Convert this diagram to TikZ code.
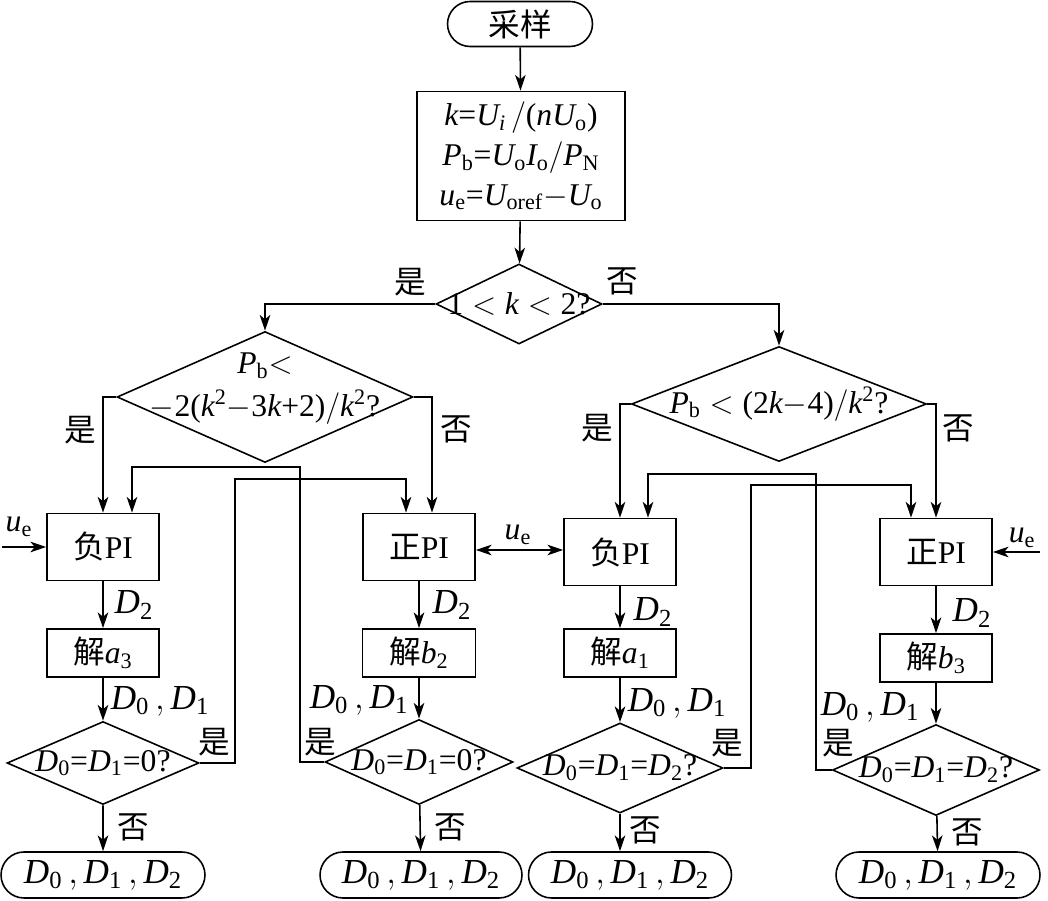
\RequirePackage{fix-cm}
\documentclass[tikz,border=0pt]{standalone}
\usepackage{fontspec}
\setmainfont{Liberation Serif}
\newfontfamily\cjk{Noto Sans CJK SC}
\usetikzlibrary{shapes.geometric,shapes.misc,arrows.meta,calc}
% Times-like letters and digits in math
\DeclareSymbolFont{tuup}{TU}{\rmdefault}{m}{n}
\DeclareSymbolFont{tuletters}{TU}{\rmdefault}{m}{it}
\makeatletter
\AtBeginDocument{%
  \count@=`a \loop \Umathcode\count@=7 \symtuletters \count@ \advance\count@ 1 \ifnum\count@<`\{ \repeat
  \count@=`A \loop \Umathcode\count@=7 \symtuletters \count@ \advance\count@ 1 \ifnum\count@<`\[ \repeat
  \count@=`0 \loop \Umathcode\count@=7 \symtuup \count@ \advance\count@ 1 \ifnum\count@<`\: \repeat
  \Umathcode`(=4 \symtuup `(
  \Umathcode`)=5 \symtuup `)
  \Umathcode`?=5 \symtuup `?
  \Umathcode`+=2 \symtuup `+
  \Umathcode`==3 \symtuup `=}
\makeatother

\begin{document}
\begin{tikzpicture}[x=0.02cm, y=-0.02cm, line width=0.9pt,
        >={Stealth[length=9pt,width=6pt,inset=2.5pt]},
        every node/.style={font=\fontsize{18}{21}\selectfont},
        term/.style={draw, rounded rectangle, minimum width=4.08cm, minimum height=0.92cm, inner sep=0pt},
        proc/.style={draw, rectangle, minimum width=2.24cm, minimum height=1.34cm, inner sep=0pt},
        solve/.style={draw, rectangle, minimum width=2.24cm, minimum height=0.96cm, inner sep=0pt},
        dec/.style={draw, diamond, inner sep=0pt},
        lab/.style={inner sep=0pt},
        big/.style={font=\fontsize{20}{23}\selectfont}]
        \useasboundingbox (0,0) rectangle (1048,901);

        % Draw top part
        \node[term, minimum width=2.9cm, minimum height=0.9cm] (samp) at (520,24) {\cjk 采样};
        \node[draw, align=center, minimum width=4.16cm, minimum height=2.58cm, inner sep=0pt,
              font=\fontsize{18}{22.7}\selectfont] (calc) at (521,156)
              {$k{=}U_i\,/(nU_\mathrm{o})$\\ $P_\mathrm{b}{=}U_\mathrm{o}I_\mathrm{o}/P_\mathrm{N}$\\ $u_\mathrm{e}{=}U_\mathrm{oref}{-}U_\mathrm{o}$};
        \node[dec, minimum width=3.32cm, minimum height=1.6cm] (d0) at (519,304) {\makebox[0pt]{$1<k<2?$}};

        % Draw second level decisions
        \node[dec, minimum width=5.92cm, minimum height=2.62cm] (dL) at (265,397)
              {\makebox[0pt]{\raisebox{0.03cm}[0pt][0pt]{$\begin{array}{c} P_\mathrm{b}{<}\\[3pt] -2(k^2{-}3k{+}2)/k^2? \end{array}$}}};
        \node[dec, minimum width=5.9cm, minimum height=2.3cm] (dR) at (779,404)
              {\makebox[0pt]{$P_\mathrm{b}<(2k{-}4)/k^2?$}};

        % Draw PI boxes
        \node[proc] (nL) at (103,547) {{\cjk 负}PI};
        \node[proc] (pL) at (419,547) {{\cjk 正}PI};
        \node[proc] (nR) at (620,552) {{\cjk 负}PI};
        \node[proc] (pR) at (936,552) {{\cjk 正}PI};

        % Draw solve boxes
        \node[solve] (sL) at (103,653) {{\cjk 解}$a_3$};
        \node[solve, minimum width=2.26cm] (sLM) at (419,653) {{\cjk 解}$b_2$};
        \node[solve] (sRM) at (620,653) {{\cjk 解}$a_1$};
        \node[solve] (sR) at (936,658) {{\cjk 解}$b_3$};

        % Draw small decisions
        \node[dec, minimum width=3.84cm, minimum height=1.66cm] (qL) at (103,763) {\makebox[0pt]{$D_0{=}D_1{=}0?$}};
        \node[dec, minimum width=3.76cm, minimum height=1.7cm] (qLM) at (419,762) {\makebox[0pt]{$D_0{=}D_1{=}0?$}};
        \node[dec, minimum width=4.12cm, minimum height=1.8cm] (qRM) at (620,768) {\makebox[0pt]{$D_0{=}D_1{=}D_2?$}};
        \node[dec, minimum width=4.14cm, minimum height=1.82cm] (qR) at (936,770) {\makebox[0pt]{$D_0{=}D_1{=}D_2?$}};

        % Draw outputs
        \node[term, big] (tL) at (103,875) {$D_0\,, D_1\,, D_2$};
        \node[term, big, minimum width=4.04cm] (tLM) at (421,875) {$D_0\,, D_1\,, D_2$};
        \node[term, big, minimum width=4.06cm] (tRM) at (630,875) {$D_0\,, D_1\,, D_2$};
        \node[term, big] (tR) at (938,875) {$D_0\,, D_1\,, D_2$};

        % Draw main flow
        \draw[->] (samp) -- (calc);
        \draw[->] (calc) -- (d0);
        \draw[->] (d0.west) -| (dL.north);
        \draw[->] (d0.east) -| (dR.north);
        \draw[->] (dL.west) -| (nL.north);
        \draw[->] (dL.east) -| ($(pL.north)+(13,0)$);
        \draw[->] (dR.west) -| (nR.north);
        \draw[->] (dR.east) -| (pR.north);

        % Draw columns
        \draw[->] (nL) -- (sL);
        \draw[->] (sL) -- (qL);
        \draw[->] (qL) -- (tL);
        \draw[->] (pL) -- (sLM);
        \draw[->] (sLM) -- (qLM);
        \draw[->] (qLM) -- (tLM);
        \draw[->] (nR) -- (sRM);
        \draw[->] (sRM) -- (qRM);
        \draw[->] (qRM.south) -- (qRM.south |- tRM.north);
        \draw[->] (pR) -- (sR);
        \draw[->] (sR) -- (qR);
        \draw[->] (qR) -- (tR);

        % Draw feedback lines
        \coordinate (bL) at (235,479);
        \coordinate (bLM) at (300,467);
        \coordinate (bRM) at (751,485);
        \coordinate (bR) at (816,474);
        \draw[->] (qL.east) -| (bL) -| ($(pL.north)+(-13,0)$);
        \draw[->] (qLM.west) -| (bLM) -| ($(nL.north)+(29,0)$);
        \draw[->] (qRM.east) -| (bRM) -| ($(pR.north)+(-25,0)$);
        \draw[->] (qR.west) -| (bR) -| ($(nR.north)+(28,0)$);

        % Draw u_e inputs
        \coordinate (ueIn) at (2,547);
        \coordinate (ueMid) at (519,550);
        \coordinate (ueOut) at (1040,552);
        \draw[->] (ueIn) -- (nL.west);
        \draw[<->] (pL.east |- ueMid) -- (nR.west |- ueMid);
        \draw[->] (ueOut) -- (pR.east);
        \node[lab] (ueA) at (19,527) {$u_\mathrm{e}$};
        \node[lab] (ueB) at (518,535) {$u_\mathrm{e}$};
        \node[lab] (ueC) at (1022,538) {$u_\mathrm{e}$};

        % Draw labels
        \node[lab] (y0) at (410,282) {\cjk 是};
        \node[lab] (n0) at (622,281) {\cjk 否};
        \node[lab] (y1) at (80,430) {\cjk 是};
        \node[lab] (n1) at (456,429) {\cjk 否};
        \node[lab] (y2) at (597,428) {\cjk 是};
        \node[lab] (n2) at (958,428) {\cjk 否};

        \node[lab, big] (dA) at (134,605) {$D_2$};
        \node[lab, big] (dB) at (452,605) {$D_2$};
        \node[lab, big] (dC) at (653,612) {$D_2$};
        \node[lab, big] (dD) at (972,613) {$D_2$};
        \node[lab, big] (eA) at (160,701) {$D_0\,, D_1$};
        \node[lab, big] (eB) at (359,700) {$D_0\,, D_1$};
        \node[lab, big] (eC) at (677,703) {$D_0\,, D_1$};
        \node[lab, big] (eD) at (870,707) {$D_0\,, D_1$};

        \node[lab] (y3) at (214,742) {\cjk 是};
        \node[lab] (y4) at (320,742) {\cjk 是};
        \node[lab] (y5) at (727,743) {\cjk 是};
        \node[lab] (y6) at (838,743) {\cjk 是};
        \node[lab] (n3) at (133,827) {\cjk 否};
        \node[lab] (n4) at (450,827) {\cjk 否};
        \node[lab] (n5) at (645,830) {\cjk 否};
        \node[lab] (n6) at (967,832) {\cjk 否};
    \end{tikzpicture}
\end{document}
